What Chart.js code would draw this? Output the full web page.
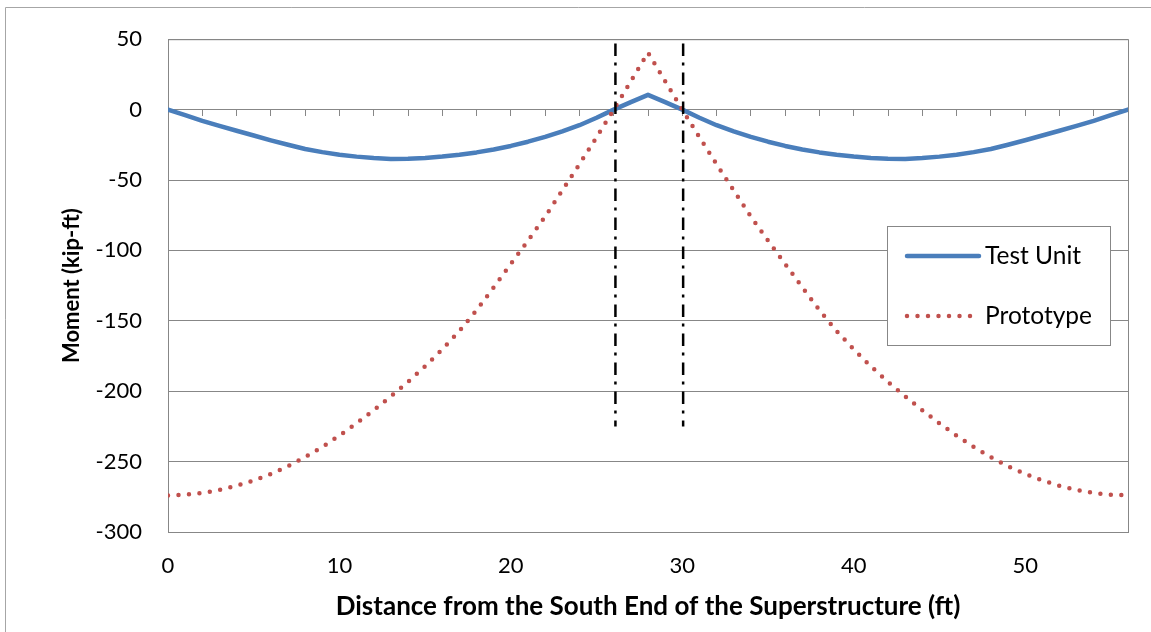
<!DOCTYPE html>
<html>
<head>
<meta charset="utf-8">
<title>Moment along the superstructure</title>
<script src="https://cdn.jsdelivr.net/npm/chart.js@4"></script>
<style>
  body { margin: 0; background: #fff; }
  #wrap { width: 1151px; height: 632px; }
</style>
</head>
<body>
<div id="wrap"><canvas id="momentChart" width="1151" height="632"></canvas></div>
<script>
// distance from the south end (ft)
const distances = [
    0, 1, 2, 3, 4, 5, 6, 7, 8, 9, 10, 11, 12, 13, 14, 15, 16, 17, 18, 19,
    20, 21, 22, 23, 24, 25, 26, 27, 28, 29, 30, 31, 32, 33, 34, 35, 36, 37, 38, 39,
    40, 41, 42, 43, 44, 45, 46, 47, 48, 49, 50, 51, 52, 53, 54, 55, 56
]

// moment (kip-ft)
const testUnit = [
    0, -4.0, -8.0, -11.6, -15.0, -18.4, -21.8, -25.0, -28.0, -30.2,
    -32.0, -33.4, -34.4, -35.0, -34.9, -34.3, -33.3, -32.0, -30.4, -28.3,
    -25.8, -22.8, -19.4, -15.5, -11.1, -5.8, 0, 5.3, 10.5, 5.3,
    0, -5.8, -11.1, -15.5, -19.4, -22.8, -25.8, -28.3, -30.4, -32.0,
    -33.3, -34.3, -34.9, -35.0, -34.4, -33.4, -32.0, -30.2, -28.0, -25.0,
    -21.8, -18.4, -15.0, -11.6, -8.0, -4.0, 0
]

const prototype = [
    -274, -273.5, -272.3, -270.2, -267.2, -263.4, -258.8, -253.3, -246.8, -239.6,
    -231.5, -222.8, -213.5, -203.6, -193.4, -182.3, -170.3, -157.2, -142.5, -126.2,
    -109.6, -93.0, -76.0, -57.4, -38.8, -19.6, 0, 20.2, 40.5, 20.2,
    0, -19.6, -38.8, -57.4, -76.0, -93.0, -109.6, -126.2, -142.5, -157.2,
    -170.3, -182.3, -193.4, -203.6, -213.5, -222.8, -231.5, -239.6, -246.8, -253.3,
    -258.8, -263.4, -267.2, -270.2, -272.3, -273.5, -274
]

// dash-dot markers either side of the joint
const sectionX = [26.1, 30.05]
const sectionY = [47, -225]

const yRange = [-300, 50]
const xRange = [0, 56]

const gray = '#878787'
const blue = '#4a7ebb'
const red = '#c0504d'
const fontFamily = 'Lato, "Open Sans", sans-serif'

const tickFont = { family: fontFamily, size: 22 }
const yTitleFont = { family: fontFamily, size: 22, weight: 'bold' }
const xTitleFont = { family: fontFamily, size: 26, weight: 'bold' }

function toPoints(xs, ys) {
    return xs.map((x, i) => ({ x: x, y: ys[i] }))
}

let datasets = [
    {
        label: 'Test Unit',
        data: toPoints(distances, testUnit),
        borderColor: blue,
        borderWidth: 4.5,
        borderCapStyle: 'round',
        borderJoinStyle: 'round',
        order: 3
    },
    {
        label: 'Prototype',
        data: toPoints(distances, prototype),
        borderColor: red,
        borderWidth: 4.5,
        borderDash: [0, 10.5],
        borderCapStyle: 'round',
        order: 2
    }
]

sectionX.forEach(x => {
    datasets.push({
        label: 'section',
        data: sectionY.map(y => ({ x: x, y: y })),
        borderColor: '#000',
        borderWidth: 2.5,
        borderDash: [12.5, 6.5, 3, 7],
        order: 1
    })
})

/* Plot border and the outer frame */
const framePlugin = {
    id: 'frame',
    beforeDatasetsDraw(chart) {
        const { ctx, chartArea } = chart
        ctx.save()
        ctx.strokeStyle = gray
        ctx.lineWidth = 1
        ctx.strokeRect(chartArea.left + 0.5, chartArea.top + 0.5,
            chartArea.right - chartArea.left, chartArea.bottom - chartArea.top)
        ctx.strokeStyle = '#a6a6a6'
        ctx.beginPath()
        ctx.moveTo(5.5, chart.height)
        ctx.lineTo(5.5, 7.5)
        ctx.lineTo(chart.width, 7.5)
        ctx.stroke()
        ctx.restore()
    }
}

/* Boxed legend sitting inside the plot, right side */
const boxLegend = {
    id: 'boxLegend',
    afterDatasetsDraw(chart) {
        const ctx = chart.ctx
        const box = { left: 887.5, top: 226.5, width: 223, height: 119 }
        const rows = [
            { ds: chart.data.datasets[0], y: 256, base: 264 },
            { ds: chart.data.datasets[1], y: 316, base: 324 }
        ]
        ctx.save()
        ctx.fillStyle = '#fff'
        ctx.fillRect(box.left, box.top, box.width, box.height)
        ctx.strokeStyle = gray
        ctx.lineWidth = 1
        ctx.strokeRect(box.left, box.top, box.width, box.height)

        rows.forEach(row => {
            ctx.beginPath()
            ctx.strokeStyle = row.ds.borderColor
            ctx.lineWidth = row.ds.borderWidth
            ctx.lineCap = 'round'
            ctx.setLineDash(row.ds.borderDash || [])
            ctx.moveTo(907, row.y)
            ctx.lineTo(row.ds.borderDash ? 977 : 979, row.y)
            ctx.stroke()
            ctx.setLineDash([])
            ctx.fillStyle = '#000'
            ctx.font = `24.5px ${fontFamily}`
            ctx.textBaseline = 'alphabetic'
            ctx.textAlign = 'left'
            ctx.fillText(row.ds.label, 985, row.base)
        })
        ctx.restore()
    }
}

const ctx = document.getElementById('momentChart').getContext('2d')

let momentChart = new Chart(ctx, {
    type: 'line',
    data: { datasets: datasets },
    options: {
        responsive: false,
        devicePixelRatio: 1,
        animation: false,
        layout: { padding: { top: 37, right: 23, left: 0, bottom: 0 } },
        elements: {
            point: { radius: 0, hoverRadius: 0 },
            line: { tension: 0, fill: false }
        },
        plugins: {
            legend: { display: false },
            tooltip: { enabled: false }
        },
        scales: {
            x: {
                type: 'linear',
                position: 'bottom',
                min: xRange[0],
                max: xRange[1],
                ticks: {
                    stepSize: 10,
                    padding: 21,
                    color: '#000',
                    font: tickFont,
                    maxRotation: 0,
                    callback: v => (v % 10 === 0 ? v : '')
                },
                grid: { display: false, drawTicks: false },
                border: { display: false },
                title: {
                    display: true,
                    text: 'Distance from the South End of the Superstructure (ft)',
                    color: '#000',
                    font: xTitleFont,
                    padding: { top: 0, bottom: 10 }
                },
                afterFit(scale) { scale.height = 100 }
            },
            // axis line through zero with small tick marks
            xZero: {
                type: 'linear',
                position: { y: 0 },
                min: xRange[0],
                max: xRange[1],
                ticks: { display: false, stepSize: 2 },
                grid: { drawOnChartArea: false, color: gray, tickLength: 6, tickWidth: 1 },
                border: { color: gray, width: 1 }
            },
            y: {
                min: yRange[0],
                max: yRange[1],
                ticks: { stepSize: 50, padding: 26, color: '#000', font: tickFont },
                grid: { color: gray, drawTicks: false },
                border: { display: false },
                title: {
                    display: true,
                    text: 'Moment (kip-ft)',
                    color: '#000',
                    font: yTitleFont,
                    padding: { top: 59, bottom: 0 }
                },
                afterFit(scale) { scale.width = 168 }
            }
        }
    },
    plugins: [framePlugin, boxLegend]
})
</script>
</body>
</html>
